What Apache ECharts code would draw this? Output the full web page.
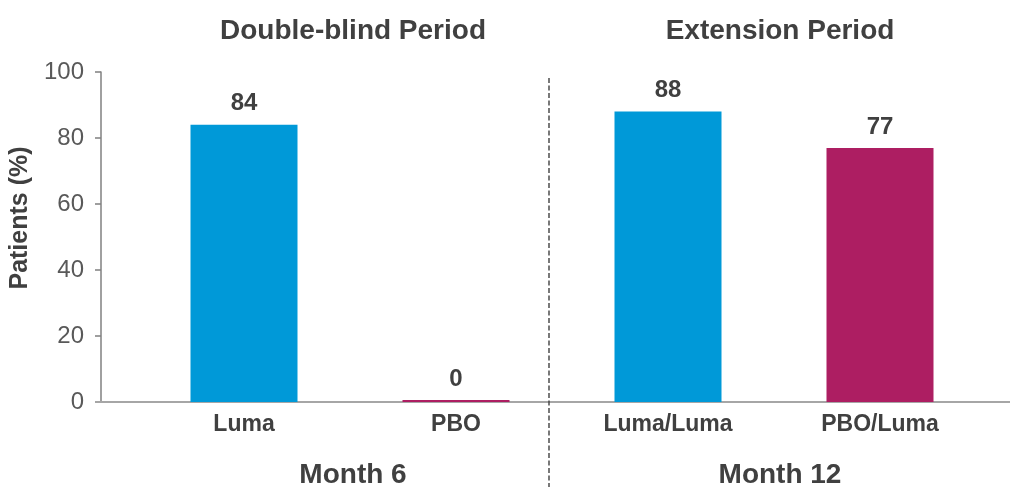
<!DOCTYPE html>
<html>
<head>
<meta charset="utf-8">
<script src="https://cdn.jsdelivr.net/npm/echarts@6/dist/echarts.min.js"></script>
<style>
  html, body { margin: 0; padding: 0; background: #fff; }
  #chart { width: 1010px; height: 487px; }
</style>
</head>
<body>
<div id="chart"></div>
<script>
// Response rates by period
const categories = ['Luma', 'PBO', 'Luma/Luma', 'PBO/Luma'];
const values = [84, 0, 88, 77];
const barColors = ['#0099D8', '#AD1E62', '#0099D8', '#AD1E62'];
const yTicks = [0, 20, 40, 60, 80, 100];
const periodTitles = ['Double-blind Period', 'Extension Period'];
const monthTitles = ['Month 6', 'Month 12'];

const FONT = '"Liberation Sans", Arial, sans-serif';
const DARK = '#404040';

const chart = echarts.init(document.getElementById('chart'), null, { renderer: 'canvas' });

const gridLeft = 138, gridRight = 24, gridTop = 72, gridBottom = 85;
const axisY = 487 - gridBottom;
const leftCenter = 348, rightCenter = 775, divider = 549;

const titleStyle = { fontFamily: FONT, fontSize: 28, fontWeight: 'bold', color: DARK };

chart.setOption({
  animation: false,
  backgroundColor: '#fff',
  grid: { left: gridLeft, right: gridRight, top: gridTop, bottom: gridBottom },
  title: [
    { text: periodTitles[0], left: leftCenter, top: 12, textAlign: 'center', textStyle: titleStyle },
    { text: periodTitles[1], left: rightCenter, top: 12, textAlign: 'center', textStyle: titleStyle },
    { text: monthTitles[0], left: leftCenter, top: 456, textAlign: 'center', textStyle: titleStyle },
    { text: monthTitles[1], left: rightCenter, top: 456, textAlign: 'center', textStyle: titleStyle }
  ],
  xAxis: {
    type: 'category',
    data: categories,
    axisLine: { show: false },
    axisTick: { show: false },
    axisLabel: { fontFamily: FONT, fontSize: 23, fontWeight: 'bold', color: DARK, margin: 11 }
  },
  yAxis: {
    type: 'value',
    min: yTicks[0],
    max: yTicks[yTicks.length - 1],
    interval: 20,
    offset: 37,
    name: 'Patients (%)',
    nameLocation: 'middle',
    nameGap: 63,
    nameRotate: 90,
    nameTextStyle: { fontFamily: FONT, fontSize: 25, fontWeight: 'bold', color: DARK, padding: [0, 0, 0, 38] },
    axisLine: { show: true, lineStyle: { color: '#808080', width: 1.5 } },
    axisTick: { show: true, length: 6, lineStyle: { color: '#808080', width: 1.5 } },
    axisLabel: { fontFamily: FONT, fontSize: 24, color: '#595959', margin: 17 },
    splitLine: { show: false }
  },
  series: [{
    type: 'bar',
    barWidth: 107,
    barMinHeight: 2,
    data: values.map((v, i) => ({ value: v, itemStyle: { color: barColors[i] } })),
    label: {
      show: true,
      position: 'top',
      distance: 9,
      fontFamily: FONT,
      fontSize: 24,
      fontWeight: 'bold',
      color: DARK
    },
    z: 3
  }],
  graphic: [
    { type: 'line', z: 1,
      shape: { x1: gridLeft - 43, y1: axisY, x2: 1010, y2: axisY },
      style: { stroke: '#A6A6A6', lineWidth: 2 } },
    { type: 'line', z: 5,
      shape: { x1: divider, y1: 78, x2: divider, y2: 487 },
      style: { stroke: '#404040', lineWidth: 1.4, lineDash: [5, 2.5] } }
  ]
});
</script>
</body>
</html>
